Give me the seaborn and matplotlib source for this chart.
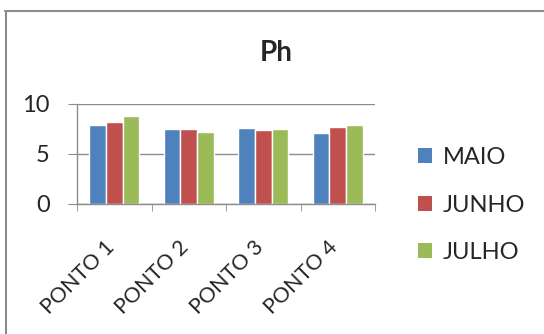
import matplotlib
matplotlib.use("Agg")
import matplotlib.pyplot as plt
import matplotlib.transforms as mtransforms
import seaborn as sns
import pandas as pd
from matplotlib.lines import Line2D
from matplotlib.patches import Patch

categories = ["PONTO 1", "PONTO 2", "PONTO 3", "PONTO 4"]
series_names = ["MAIO", "JUNHO", "JULHO"]
maio = [7.9, 7.5, 7.6, 7.13]
junho = [8.23, 7.47, 7.4, 7.67]
julho = [8.77, 7.2, 7.5, 7.9]
colors = ["#4F81BD", "#C0504D", "#9BBB59"]

rows = []
for name, vals in zip(series_names, [maio, junho, julho]):
    for c, v in zip(categories, vals):
        rows.append({"cat": c, "mes": name, "val": v})
df = pd.DataFrame(rows)

sns.set_style("white")
plt.rcParams['font.family'] = ['Lato', 'DejaVu Sans']

fig = plt.figure(figsize=(5.44, 3.34), dpi=100)
ax = fig.add_axes([77/544, 1-204/334, (375-77)/544, 100/334])

sns.barplot(data=df, x="cat", y="val", hue="mes", hue_order=series_names,
            palette=colors, width=0.67, ax=ax, legend=False, saturation=1)

ax.set_ylim(0, 10)
ax.set_xlim(-0.5, 3.5)
ax.set_yticks([0, 5, 10])
ax.yaxis.grid(True, color="#8c8c8c", linewidth=1)
ax.set_axisbelow(True)
ax.set_xlabel("")
ax.set_ylabel("")
for s in ["top", "right"]:
    ax.spines[s].set_visible(False)
for s in ["left", "bottom"]:
    ax.spines[s].set_color("#8c8c8c")
    ax.spines[s].set_linewidth(1)

ax.tick_params(axis="y", direction="out", length=6.5, color="#8c8c8c", labelsize=17, pad=13, left=True)
ax.set_xticks(range(len(categories)))
ax.set_xticklabels(categories, rotation=45, ha="right", rotation_mode="anchor", fontsize=15.5)
ax.tick_params(axis="x", which="major", length=0, pad=24)
ax.set_xticks([-0.5, 0.5, 1.5, 2.5, 3.5], minor=True)
ax.tick_params(axis="x", which="minor", direction="out", length=5, color="#8c8c8c", bottom=True)
for lbl in ax.get_xticklabels():
    lbl.set_transform(lbl.get_transform() + mtransforms.ScaledTranslation(-0.1, 0, fig.dpi_scale_trans))

fig.text(276/544, 1-61/334, "Ph", ha="center", va="baseline", fontsize=20, fontweight="bold")

handles = [Patch(facecolor=c, edgecolor="none") for c in colors]
fig.legend(handles, series_names, loc="center left", bbox_to_anchor=(397/544, 1-205/334),
           frameon=False, fontsize=17, labelspacing=1.12, handlelength=0.6, handleheight=0.6,
           handletextpad=0.45)

# chart border (top and left visible)
fig.add_artist(Line2D([5/544, 1], [1-10.5/334, 1-10.5/334], transform=fig.transFigure, color="#8c8c8c", lw=1.5))
fig.add_artist(Line2D([5.5/544, 5.5/544], [0, 1-10.5/334], transform=fig.transFigure, color="#8c8c8c", lw=1.5))

fig.savefig("out.png", dpi=100)
